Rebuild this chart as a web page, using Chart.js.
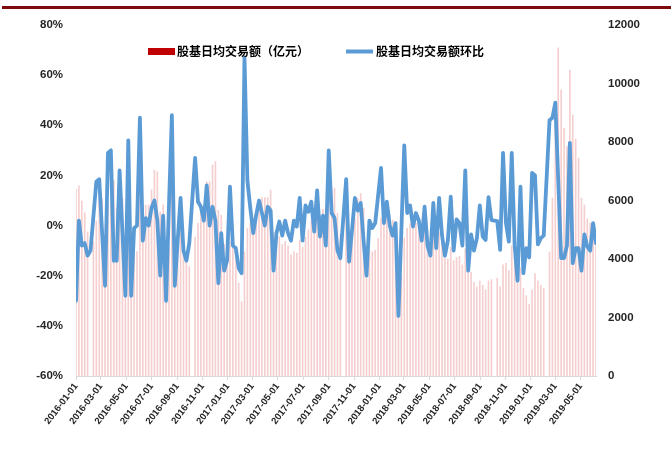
<!DOCTYPE html>
<html>
<head>
<meta charset="utf-8">
<script src="https://cdn.jsdelivr.net/npm/chart.js@4.4.1/dist/chart.umd.min.js"></script>
<style>
  html, body { margin: 0; padding: 0; background: #fff; }
  #wrap { width: 671px; height: 459px; }
</style>
</head>
<body>
<div id="wrap"><canvas id="grafica" width="671" height="459"></canvas></div>
<script>
// weekly data, first week 2016-01-01, one point every 7 days
const primeraSemana = '2016-01-01';
const numSemanas = 180;

// 股基日均交易额（亿元）, null = week without trading
const montoDiario = [
  6380, 6500, 5980, 5580, 4930, null, 4600, 5300, 6250, 6050,
  4600, 5950, 7700, 6700, 5750, 7000, 6070, 4400, 5900, 4300,
  4250, 4250, 6050, 5700, 5850, 5850, 6360, 7040, 6980, 5610,
  5850, 4100, 4400, 6300, 4800, 4500, 4950, 4300, 4000, 3740,
  null, 4750, 5220, 5610, 5720, 6640, 6640, 7210, 7330, 5670,
  5500, 4500, 3970, 4600, 4480, 4250, 3180, 2540, 4250, 5050,
  5230, 5100, 5300, 5800, 6100, 6100, 6100, 6360, 4900, 4650,
  4760, 4500, 4600, 4450, 4150, 4250, 4200, 4650, 4400, 4750,
  5000, 5300, 5200, 5800, 5500, 5700, 5200, 6150, 6350, 6420,
  5560, 4840, null, 5700, 4900, 4800, 5400, 6070, 6240, 5740,
  4400, 4300, 4250, 4300, 4700, 5400, 5220, 5600, 5500, 5330,
  5220, 3500, 3450, 4720, 5050, 5200, 5050, 5220, 5390, 5120,
  5450, 5000, 4500, 4850, 4500, 4900, 4750, 4200, 4000, 4400,
  3950, 4050, 4100, 3800, 4350, 3650, 3550, 3200, 3050, 3250,
  3100, 2950, 3250, 3300, null, 3350, 3050, 3800, 3850, 3600,
  4450, 4100, 3200, 3700, 3000, 2750, 2450, 2950, 3500, 3250,
  3100, 3000, null, 4240, 6080, 9300, 11220, 9780, 8480, 7840,
  10460, 8920, 8100, 7450, 6080, 5850, 5370, 5230, 5060, 4750
];

// 股基日均交易额环比 (%)
const cambioSemanal = [
  -30, 2, -8, -7, -12, -10, null, 17.5, 18.5, -3,
  -24, 29, 30, -14, -14, 22, -3, -28, 34, -28,
  -1, 0, 43, -6, 3, 0, 7, 10, 2, -20,
  4, -30, 8, 44, -24, -6, 11, -10, -14, -7,
  null, 27, 9.5, 7.5, 2, 16, 0, 7.5, 2, -23,
  -3, -18, -14, 15.5, -8, -9, -17, -19, 67, 18,
  7, -3, 4, 10, 5, 0, 7.5, 6, -18, -3,
  1.6, -4, 2, -3, -6, 2, -0.4, 11, -6, 8,
  5.5, 9.5, -2.4, 14, -4.4, 4, -8, 30, 5, 3,
  -10, -13, null, 18.5, -14.4, -2, 11, 6, 9, -6,
  -20, 2, -1, 1, 12, 23, 1, 9.5, 0, -4,
  1, -36, -2, 32, 5, 8, -0.4, 5, 2, -6,
  7.5, -8, -12, 9, -9, 11, -4, -12, -6, 11.5,
  -10, 2.5, 1, -8, 22, -18, -3.5, -10, -5, 8,
  -4.4, -5.7, 11.3, 2.2, null, 1.8, -9.7, 29, 1, -6.4,
  29, -8, -22, 15.5, -19, -9, -12.7, 21, 20, -7.5,
  -5, -4, null, 42, 43, 49, 18, -13, -13, -8,
  33, -15, -9, -9, -18, -3.5, -8.4, -10, 1, -7
];

const etiquetasFecha = [
  '2016-01-01', '2016-03-01', '2016-05-01', '2016-07-01', '2016-09-01', '2016-11-01',
  '2017-01-01', '2017-03-01', '2017-05-01', '2017-07-01', '2017-09-01', '2017-11-01',
  '2018-01-01', '2018-03-01', '2018-05-01', '2018-07-01', '2018-09-01', '2018-11-01',
  '2019-01-01', '2019-03-01', '2019-05-01'
];

const nombreBarras = '股基日均交易额（亿元）';
const nombreLinea = '股基日均交易额环比';

const DIA = 86400000;
function diaDe(fecha) {
  return (Date.parse(fecha) - Date.parse(primeraSemana)) / DIA;
}

let semanas = [];
for (let i = 0; i < numSemanas; i++) {
  semanas.push(new Date(Date.parse(primeraSemana) + i * 7 * DIA).toISOString().slice(0, 10));
}

let puntosBarras = semanas.map((s, i) => ({ x: diaDe(s), y: montoDiario[i] }));
let puntosLinea = semanas.map((s, i) => ({ x: diaDe(s), y: cambioSemanal[i] }));

const fuenteEje = { family: '"Liberation Sans", Arial, sans-serif', size: 11.5, weight: 'bold' };

// dark red rule at the top + legend inside the plot
const decoracion = {
  id: 'decoracion',
  beforeDraw(chart) {
    let ctx = chart.ctx;
    ctx.save();
    ctx.fillStyle = '#ffffff';
    ctx.fillRect(0, 0, chart.width, chart.height);
    ctx.fillStyle = '#7E0B0B';
    ctx.fillRect(2, 6, chart.width - 2, 3);
    ctx.restore();
  },
  afterDraw(chart) {
    let ctx = chart.ctx;
    let ca = chart.chartArea;
    let y = ca.top + 26.5;
    ctx.save();
    ctx.font = 'bold 12px "Noto Sans CJK SC", sans-serif';
    ctx.textBaseline = 'middle';
    ctx.fillStyle = '#C00000';
    ctx.fillRect(ca.left + 72, y - 3.5, 27, 7);
    ctx.fillStyle = '#000';
    ctx.fillText(nombreBarras, ca.left + 101, y);
    ctx.strokeStyle = '#5B9BD5';
    ctx.lineWidth = 4;
    ctx.beginPath();
    ctx.moveTo(ca.left + 270, y);
    ctx.lineTo(ca.left + 297, y);
    ctx.stroke();
    ctx.fillText(nombreLinea, ca.left + 300, y);
    ctx.restore();
  }
};

new Chart(document.getElementById('grafica'), {
  type: 'bar',
  data: {
    datasets: [{
      type: 'line',
      label: nombreLinea,
      data: puntosLinea,
      yAxisID: 'y',
      borderColor: '#5B9BD5',
      borderWidth: 3.8,
      borderJoinStyle: 'round',
      borderCapStyle: 'round',
      pointRadius: 0,
      tension: 0,
      spanGaps: true,
      order: 0
    }, {
      type: 'bar',
      label: nombreBarras,
      data: puntosBarras,
      yAxisID: 'y1',
      backgroundColor: '#F5CFCF',
      barThickness: 1,
      order: 1
    }]
  },
  options: {
    responsive: false,
    animation: false,
    devicePixelRatio: 1,
    layout: { padding: { top: 25, right: 0, bottom: 0, left: 0 } },
    plugins: {
      legend: { display: false },
      tooltip: { enabled: false }
    },
    scales: {
      x: {
        type: 'linear',
        min: 0,
        max: diaDe(semanas[numSemanas - 1]),
        offset: false,
        afterBuildTicks: (scale) => {
          scale.ticks = etiquetasFecha.map(d => ({ value: diaDe(d) }));
        },
        afterFit: (scale) => { scale.height = 83; },
        grid: { offset: false, drawOnChartArea: false, drawTicks: true, tickLength: 4, color: '#D9D9D9' },
        border: { display: true, color: '#D9D9D9', width: 1 },
        ticks: {
          autoSkip: false,
          minRotation: 53,
          maxRotation: 53,
          padding: 1,
          color: '#262626',
          font: { family: '"Liberation Sans", Arial, sans-serif', size: 9.5, weight: 'bold' },
          callback: (v) => {
            let f = etiquetasFecha.find(d => diaDe(d) === v);
            return f ? f : '';
          }
        }
      },
      y: {
        position: 'left',
        min: -60,
        max: 80,
        afterFit: (scale) => { scale.width = 76; },
        grid: { display: false, drawTicks: false },
        border: { display: false },
        ticks: {
          stepSize: 20,
          padding: 13,
          color: '#262626',
          font: fuenteEje,
          callback: (v) => v + '%'
        }
      },
      y1: {
        position: 'right',
        min: 0,
        max: 12000,
        afterFit: (scale) => { scale.width = 75; },
        grid: { display: false, drawTicks: false },
        border: { display: false },
        ticks: {
          stepSize: 2000,
          padding: 12,
          color: '#262626',
          font: fuenteEje,
          callback: (v) => String(v)
        }
      }
    }
  },
  plugins: [decoracion]
});
</script>
</body>
</html>
